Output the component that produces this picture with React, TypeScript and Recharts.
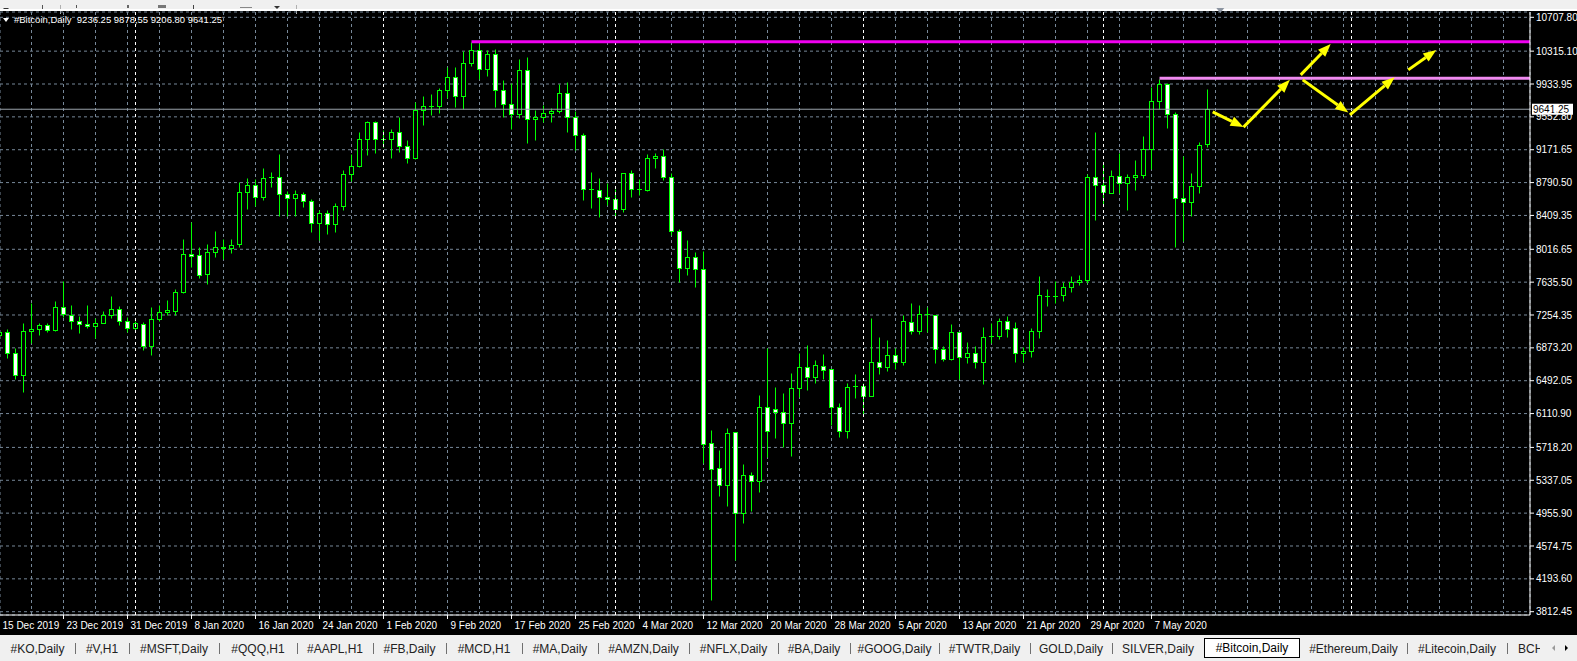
import React from 'react';
import {
  ComposedChart,
  Bar,
  XAxis,
  YAxis,
  CartesianGrid,
  ReferenceLine,
  ReferenceDot,
} from 'recharts';

const FONT = '"Liberation Sans", Arial, sans-serif';
const GREEN = '#00ff00';

// daily candles, day 0 = 15 Dec 2019
const OPEN = [
  7021, 7060, 6815, 6558, 7072, 7095, 7141, 7079, 7350, 7257,
  7187, 7153, 7130, 7164, 7257, 7326, 7187, 7102, 7153, 6893,
  7211, 7292, 7303, 7523, 7963, 7952, 7727, 7987, 8033, 8033,
  8079, 8677, 8762, 8619, 8850, 8855, 8658, 8612, 8658, 8572,
  8322, 8434, 8311, 8519, 8890, 8982, 9295, 9492, 9295, 9295,
  9376, 9214, 9075, 9634, 9677, 9677, 9862, 10013, 9800, 10175,
  10326, 10113, 10279, 9862, 9700, 9585, 10094, 9527, 9550, 9596,
  9619, 9828, 9550, 9341, 8711, 8704, 8623, 8600, 8484, 8901,
  8716, 8704, 9075, 9098, 8855, 8225, 7801, 7929, 7790, 5775,
  5474, 5288, 5902, 4953, 5400, 5323, 6192, 6164, 6134, 6006,
  6412, 6655, 6539, 6666, 6632, 6192, 5914, 6430, 6430, 6319,
  6713, 6655, 6794, 6708, 7176, 7067, 7264, 7257, 6863, 6747,
  7060, 6771, 6817, 6705, 7014, 7014, 7187, 7102, 6817, 6840,
  7072, 7480, 7480, 7489, 7581, 7639, 7662, 8855, 8762, 8670,
  8867, 8786, 8855, 8878, 9179, 9735, 9932, 9585, 8612, 8566,
  8751, 9236.25,
];
const HIGH = [
  7110, 7087, 6875, 7164, 7396, 7164, 7156, 7411, 7646, 7376,
  7241, 7376, 7222, 7303, 7469, 7361, 7234, 7179, 7171, 7350,
  7373, 7434, 7558, 8141, 8337, 8044, 8083, 8233, 8141, 8141,
  8792, 8847, 8835, 8963, 8913, 9125, 8688, 8704, 8681, 8600,
  8476, 8476, 8549, 8936, 9125, 9376, 9507, 9510, 9403, 9414,
  9550, 9287, 9730, 9796, 9820, 9889, 10136, 10132, 10314, 10425,
  10414, 10329, 10341, 9978, 9944, 10225, 10245, 9634, 9689, 9654,
  9932, 9955, 9619, 9365, 8916, 8847, 8786, 8716, 8901, 8931,
  8832, 9125, 9133, 9179, 8901, 8253, 8129, 7982, 8002, 5917,
  5686, 5940, 5902, 5523, 5431, 6322, 6875, 6415, 6354, 6585,
  6817, 6910, 6736, 6805, 6632, 6238, 6470, 6574, 6470, 7214,
  6994, 6959, 6875, 7257, 7396, 7365, 7350, 7257, 6898, 7145,
  7060, 6936, 6890, 7110, 7164, 7222, 7245, 7176, 6886, 7106,
  7709, 7558, 7643, 7639, 7709, 7720, 8893, 9380, 9006, 8940,
  9136, 8890, 9055, 9333, 9904, 9990, 9944, 9608, 9094, 8901,
  9260, 9878.55,
];
const LOW = [
  6994, 6754, 6508, 6361, 6933, 7021, 7055, 7067, 7234, 7087,
  7040, 7098, 6983, 7156, 7222, 7137, 7060, 7067, 6847, 6789,
  7187, 7257, 7257, 7507, 7813, 7681, 7611, 7929, 7905, 7975,
  8044, 8488, 8515, 8592, 8739, 8399, 8399, 8399, 8503, 8213,
  8121, 8198, 8218, 8473, 8804, 8974, 9105, 9128, 9209, 9070,
  9140, 9013, 9063, 9461, 9576, 9592, 9770, 9669, 9646, 10147,
  9997, 10032, 9673, 9550, 9411, 9534, 9244, 9290, 9499, 9499,
  9596, 9383, 9171, 8584, 8491, 8387, 8531, 8399, 8453, 8623,
  8647, 8693, 8955, 8816, 8183, 7639, 7716, 7577, 5539, 3952,
  5156, 5041, 4415, 4840, 4983, 5203, 5608, 5828, 5728, 5620,
  6303, 6384, 6465, 6511, 5979, 5840, 5828, 6291, 6111, 6319,
  6569, 6604, 6627, 6673, 7029, 7029, 7055, 6693, 6720, 6731,
  6511, 6701, 6639, 6450, 6925, 6974, 6998, 6708, 6708, 6771,
  6986, 7357, 7388, 7414, 7519, 7604, 7631, 8352, 8526, 8670,
  8665, 8468, 8700, 8839, 8948, 9642, 9418, 8044, 8109, 8403,
  8670, 9206.8,
];
const CLOSE = [
  7060, 6812, 6558, 7072, 7095, 7141, 7083, 7350, 7269, 7187,
  7153, 7130, 7164, 7257, 7326, 7187, 7106, 7164, 6893, 7211,
  7292, 7315, 7523, 7963, 7940, 7716, 7987, 8044, 8044, 8068,
  8681, 8762, 8623, 8843, 8850, 8658, 8612, 8658, 8577, 8322,
  8438, 8311, 8519, 8890, 8982, 9295, 9492, 9295, 9295, 9376,
  9214, 9075, 9634, 9677, 9677, 9862, 10013, 9800, 10175, 10326,
  10113, 10279, 9862, 9700, 9585, 10094, 9527, 9550, 9596, 9619,
  9828, 9550, 9341, 8716, 8711, 8623, 8600, 8484, 8901, 8716,
  8716, 9075, 9098, 8855, 8225, 7801, 7929, 7790, 5763, 5469,
  5288, 5891, 4953, 5400, 5323, 6192, 5909, 6134, 6006, 6412,
  6655, 6539, 6678, 6620, 6192, 5914, 6423, 6430, 6319, 6713,
  6655, 6794, 6713, 7187, 7067, 7269, 7264, 6859, 6747, 7060,
  6771, 6817, 6705, 7002, 7014, 7187, 7095, 6817, 6840, 7072,
  7489, 7480, 7480, 7581, 7639, 7662, 8855, 8762, 8681, 8867,
  8786, 8855, 8878, 9179, 9735, 9932, 9585, 8612, 8566, 8751,
  9226, 9641.25,
];

const DATE_TICKS = [0, 8, 16, 24, 32, 40, 48, 56, 64, 72, 80, 88, 96, 104, 112, 120, 128, 136, 144];
const DATE_LABELS = [
  '15 Dec 2019', '23 Dec 2019', '31 Dec 2019', '8 Jan 2020', '16 Jan 2020', '24 Jan 2020',
  '1 Feb 2020', '9 Feb 2020', '17 Feb 2020', '25 Feb 2020', '4 Mar 2020', '12 Mar 2020',
  '20 Mar 2020', '28 Mar 2020', '5 Apr 2020', '13 Apr 2020', '21 Apr 2020', '29 Apr 2020', '7 May 2020',
];
const GRID_DAYS = [
  0, 4, 8, 12, 16, 20, 24, 28, 32, 36, 40, 44, 48, 52, 56, 60, 64, 68, 72, 76, 80, 84, 88, 92,
  96, 100, 104, 108, 112, 116, 120, 124, 128, 132, 136, 140, 144, 148, 152, 156, 160, 164, 168,
  172, 176, 180, 184, 188,
];
const MONTH_STARTS = [17, 48, 77, 108, 138, 169];
const PRICE_TICKS = [
  3812.45, 4193.6, 4574.75, 4955.9, 5337.05, 5718.2, 6110.9, 6492.05, 6873.2, 7254.35,
  7635.5, 8016.65, 8409.35, 8790.5, 9171.65, 9552.8, 9933.95, 10315.1, 10707.8,
];

const BID = 9641.25;
const RESISTANCE = 10425;
const RESISTANCE_FROM = 59;
const TARGET = 10000;
const TARGET_FROM = 145;
const SHIFT_DAY = 152.6;
// [fromDay, fromPrice, toDay, toPrice]
const ARROWS = [
  [151.65, 9611, 155.5, 9434],
  [155.5, 9434, 161.3, 9982],
  [162.65, 10040, 166.4, 10399],
  [162.9, 9982, 168.6, 9603],
  [168.8, 9576, 174.4, 10013],
  [176.1, 10098, 179.6, 10329],
];

const X_DOMAIN: [number, number] = [0.0625, 191.3125];
const Y_MIN = 3774.2;
const Y_MAX = 10769.3;

const TABS = [
  '#KO,Daily', '#V,H1', '#MSFT,Daily', '#QQQ,H1', '#AAPL,H1', '#FB,Daily', '#MCD,H1', '#MA,Daily',
  '#AMZN,Daily', '#NFLX,Daily', '#BA,Daily', '#GOOG,Daily', '#TWTR,Daily', 'GOLD,Daily',
  'SILVER,Daily', '#Bitcoin,Daily', '#Ethereum,Daily', '#Litecoin,Daily', 'BCH,Daily',
];
const TAB_EDGES = [0, 75, 129, 219, 297, 373, 446, 522, 598, 689, 778, 850, 939, 1030, 1112, 1204, 1300, 1407, 1507, 1610];
const ACTIVE_TAB = 15;

function Candle(props: any) {
  const { x, y, width, height, payload } = props;
  if (x == null || !payload) return null;
  const { open, close, high, low } = payload;
  const top = Math.min(y, y + height);
  const h = Math.abs(height);
  const perUnit = high > low ? h / (high - low) : 0;
  const yAt = (v: number) => top + (high - v) * perUnit;
  const cx = Math.floor(x + width / 2) + 0.5;
  const yHi = Math.round(top) + 0.5;
  const yLo = Math.round(top + h) + 0.5;
  const bTop = Math.round(yAt(Math.max(open, close))) + 0.5;
  const bBot = Math.round(yAt(Math.min(open, close))) + 0.5;
  const bull = close > open;
  return (
    <g>
      <line x1={cx} x2={cx} y1={yHi} y2={yLo} stroke={GREEN} />
      {bBot - bTop < 1 ? (
        <line x1={cx - 2.5} x2={cx + 2.5} y1={bTop} y2={bTop} stroke={GREEN} />
      ) : (
        <rect x={cx - 2} y={bTop} width={4} height={bBot - bTop} fill={bull ? '#000' : '#fff'} stroke={GREEN} />
      )}
    </g>
  );
}

function DateTick(props: any) {
  const { x, y, payload } = props;
  const idx = DATE_TICKS.indexOf(payload.value);
  if (idx < 0) return null;
  return (
    <text x={x + 3} y={y + 9.5} fill="#fff" fontSize={10} fontFamily={FONT} textAnchor="start">
      {DATE_LABELS[idx]}
    </text>
  );
}

function BidLabel(props: any) {
  const vb = props.viewBox || {};
  const x = vb.x + vb.width + 2;
  const y = vb.y;
  return (
    <g>
      <rect x={x} y={y - 5.5} width={41} height={11} fill="#fff" />
      <text x={x + 1} y={y + 3.5} fontSize={10} fontFamily={FONT} fill="#000">
        {BID.toFixed(2)}
      </text>
    </g>
  );
}

function Arrow(props: any) {
  const { x1, y1, x2, y2 } = props;
  const ang = Math.atan2(y2 - y1, x2 - x1);
  const len = 13;
  const half = 5;
  const bx = x2 - len * Math.cos(ang);
  const by = y2 - len * Math.sin(ang);
  const px = -Math.sin(ang) * half;
  const py = Math.cos(ang) * half;
  return (
    <g>
      <line x1={x1} y1={y1} x2={bx} y2={by} stroke="#ffff00" strokeWidth={3} />
      <polygon points={`${x2},${y2} ${bx + px},${by + py} ${bx - px},${by - py}`} fill="#ffff00" />
    </g>
  );
}

function ShiftMark(props: any) {
  const { cx, cy } = props;
  return <polygon points={`${cx - 4},${cy - 4} ${cx + 4},${cy - 4} ${cx},${cy + 1}`} fill="#8c94a0" />;
}

export default function App() {
  const data = OPEN.map((open, i) => ({
    day: i,
    open,
    high: HIGH[i],
    low: LOW[i],
    close: CLOSE[i],
    range: [LOW[i], HIGH[i]],
  }));

  return (
    <div
      style={{
        position: 'absolute',
        left: 0,
        top: 0,
        width: 1577,
        height: 661,
        background: '#000',
        overflow: 'hidden',
        fontFamily: FONT,
      }}
    >
      {/* toolbar remnant */}
      <div style={{ position: 'absolute', left: 0, top: 0, width: 1577, height: 9, background: '#f0f0f0' }}>
        <svg width={320} height={9}>
          <polygon points="3,3 9,3 6,6" fill="#333" />
          <rect x={42} y={0} width={1} height={5} fill="#555" />
          <rect x={60} y={0} width={1} height={9} fill="#b0b0b0" />
          <rect x={76} y={0} width={1} height={3} fill="#555" />
          <rect x={127} y={0} width={2} height={3} fill="#666" />
          <rect x={158} y={0} width={8} height={3} fill="#777" />
          <rect x={193} y={0} width={1} height={4} fill="#444" />
          <rect x={240} y={2} width={12} height={1} fill="#888" />
          <polygon points="274,1 280,1 277,4" fill="#333" />
          <rect x={296} y={0} width={1} height={9} fill="#b0b0b0" />
        </svg>
      </div>
      <div style={{ position: 'absolute', left: 0, top: 9, width: 1577, height: 2, background: '#fff' }} />

      <div style={{ position: 'absolute', left: 0, top: 0 }}>
        <ComposedChart width={1577} height={635} data={data} margin={{ top: 12, right: 0, bottom: 0, left: 0 }}>
          <CartesianGrid xAxisId="grid" stroke="#778899" strokeDasharray="3 3" />
          <XAxis
            xAxisId="grid"
            type="number"
            dataKey="day"
            domain={X_DOMAIN}
            allowDataOverflow
            ticks={GRID_DAYS}
            interval={0}
            hide
          />
          <XAxis
            type="number"
            dataKey="day"
            domain={X_DOMAIN}
            allowDataOverflow
            ticks={DATE_TICKS}
            interval={0}
            height={20}
            tickSize={4}
            tickMargin={0}
            axisLine={{ stroke: '#fff' }}
            tickLine={{ stroke: '#fff' }}
            tick={<DateTick />}
          />
          <YAxis
            orientation="right"
            width={47}
            domain={[Y_MIN, Y_MAX]}
            allowDataOverflow
            ticks={PRICE_TICKS}
            interval={0}
            tickSize={4}
            tickMargin={2}
            axisLine={{ stroke: '#fff' }}
            tickLine={{ stroke: '#fff' }}
            tick={{ fill: '#fff', fontSize: 10, fontFamily: FONT }}
            tickFormatter={(v: number) => v.toFixed(2)}
          />
          {MONTH_STARTS.map((d) => (
            <ReferenceLine key={`m${d}`} x={d} stroke="#ffffff" strokeDasharray="3 3" />
          ))}
          <Bar dataKey="range" barSize={5} shape={Candle} isAnimationActive={false} />
          <ReferenceLine y={BID} stroke="#9aa2aa" label={(p: any) => <BidLabel {...p} />} />
          <ReferenceLine
            segment={[{ x: RESISTANCE_FROM, y: RESISTANCE }, { x: X_DOMAIN[1], y: RESISTANCE }]}
            stroke="#f000f0"
            strokeWidth={3}
          />
          <ReferenceLine
            segment={[{ x: TARGET_FROM, y: TARGET }, { x: X_DOMAIN[1], y: TARGET }]}
            stroke="#f08af0"
            strokeWidth={3}
          />
          {ARROWS.map((a, i) => (
            <ReferenceLine
              key={`a${i}`}
              segment={[{ x: a[0], y: a[1] }, { x: a[2], y: a[3] }]}
              shape={Arrow}
            />
          ))}
          <ReferenceDot x={SHIFT_DAY} y={Y_MAX} r={4} shape={ShiftMark} />
        </ComposedChart>
      </div>

      {/* symbol header */}
      <div
        style={{
          position: 'absolute',
          left: 3,
          top: 15,
          color: '#fff',
          fontSize: 9.5,
          lineHeight: '10px',
          whiteSpace: 'pre',
          display: 'flex',
          alignItems: 'center',
        }}
      >
        <svg width={6} height={4} style={{ marginRight: 5 }}>
          <polygon points="0,0 6,0 3,4" fill="#fff" />
        </svg>
        {'#Bitcoin,Daily  9236.25 9878,55 9206.80 9641.25'}
      </div>

      {/* tab bar */}
      <div style={{ position: 'absolute', left: 0, top: 635, width: 1577, height: 26, background: '#f0f0f0' }}>
        {TABS.map((t, i) => {
          const left = TAB_EDGES[i];
          const w = TAB_EDGES[i + 1] - left;
          const active = i === ACTIVE_TAB;
          const last = i === TABS.length - 1;
          return (
            <div
              key={t}
              style={{
                position: 'absolute',
                left,
                top: 3,
                width: w,
                height: active ? 20 : 21,
                boxSizing: 'border-box',
                display: 'flex',
                alignItems: 'center',
                justifyContent: last ? 'flex-start' : 'center',
                paddingLeft: last ? 11 : 0,
                fontSize: 12,
                color: active ? '#000' : '#222',
                background: active ? '#fff' : 'transparent',
                border: active ? '1px solid #000' : 'none',
                whiteSpace: 'nowrap',
              }}
            >
              {t}
            </div>
          );
        })}
        {TAB_EDGES.slice(1, TABS.length).map((e, i) =>
          i + 1 === ACTIVE_TAB || i + 1 === ACTIVE_TAB + 1 ? null : (
            <div
              key={`s${e}`}
              style={{ position: 'absolute', left: e, top: 8, width: 1, height: 11, background: '#707070' }}
            />
          ),
        )}
        <div style={{ position: 'absolute', left: 1540, top: 0, width: 37, height: 26, background: '#f0f0f0' }}>
          <svg width={37} height={26}>
            <polygon points="12,13 15,10 15,16" fill="#9a9a9a" />
            <polygon points="25,10 28,13 25,16" fill="#000" />
          </svg>
        </div>
      </div>
    </div>
  );
}
